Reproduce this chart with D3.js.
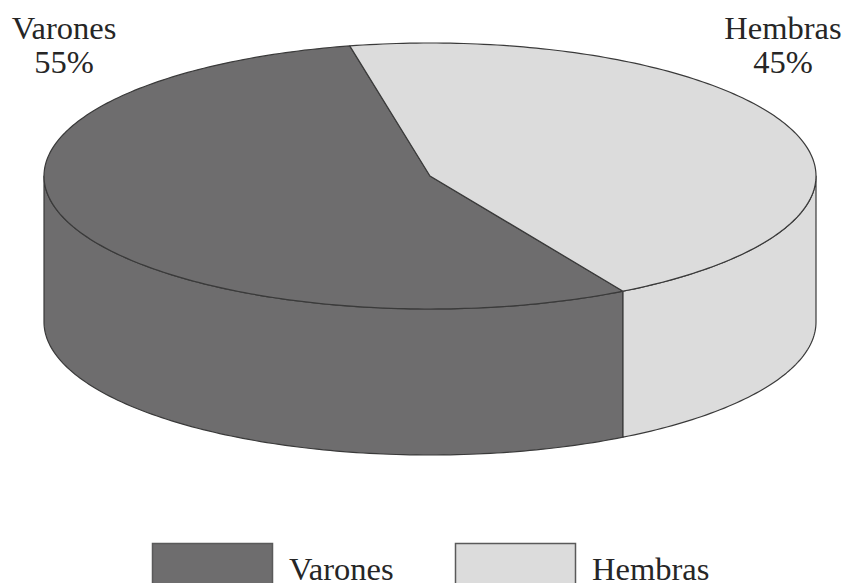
<!DOCTYPE html>
<html>
<head>
<meta charset="utf-8">
<script src="https://cdn.jsdelivr.net/npm/d3@7"></script>
<style>
  body { margin: 0; background: #fff; }
  text { font-family: "Liberation Serif", "Times New Roman", serif; fill: #262626; }
</style>
</head>
<body>
<svg id="chart" width="847" height="583"></svg>
<script>
var categories = ["Varones", "Hembras"];
var values = [55, 45];
var percentLabels = ["55%", "45%"];
var colors = ["#6e6d6e", "#dcdcdc"];

var svg = d3.select("#chart");
var cx = 430, cy = 176, rx = 386, ry = 133, depth = 146;
var deg = Math.PI / 180;

// Varones starts at 150deg (clockwise from top), Hembras ends back there
var pie = d3.pie().sort(null).value(function(d){ return d; })
	.startAngle(150 * deg).endAngle(510 * deg);
var arcs = pie(values);

function pt(t, dy){
	return [cx + rx * Math.sin(t), cy - ry * Math.cos(t) + (dy || 0)];
}

function arcPts(a0, a1, dy){
	var n = Math.max(2, Math.ceil(Math.abs(a1 - a0) / (deg)));
	var pts = [];
	for (var i = 0; i <= n; i++) pts.push(pt(a0 + (a1 - a0) * i / n, dy));
	return pts;
}

var line = d3.line();

// side walls (only front half, 90..270 deg)
var sides = [];
arcs.forEach(function(a, i){
	[0, 360].forEach(function(off){
		var lo = Math.max(a.startAngle, (90 + off) * deg);
		var hi = Math.min(a.endAngle, (270 + off) * deg);
		if (hi > lo) sides.push({i: i, a0: lo, a1: hi});
	});
});

svg.selectAll("path.side").data(sides).enter().append("path")
	.attr("class", "side")
	.attr("d", function(s){
		var top = arcPts(s.a0, s.a1, 0);
		var bot = arcPts(s.a1, s.a0, depth);
		return line(top.concat(bot)) + "Z";
	})
	.attr("fill", function(s){ return colors[s.i]; })
	.attr("stroke", "#3a3a3a")
	.attr("stroke-width", 1.2)
	.attr("stroke-linejoin", "round");

// top faces
svg.selectAll("path.top").data(arcs).enter().append("path")
	.attr("class", "top")
	.attr("d", function(a){
		return line([[cx, cy]].concat(arcPts(a.startAngle, a.endAngle, 0))) + "Z";
	})
	.attr("fill", function(a, i){ return colors[i]; })
	.attr("stroke", "#3a3a3a")
	.attr("stroke-width", 1.2)
	.attr("stroke-linejoin", "round");

// corner labels
var labelPos = [[64, 39], [783, 39]];
categories.forEach(function(c, i){
	var g = svg.append("text")
		.attr("text-anchor", "middle")
		.attr("font-size", 32.5);
	g.append("tspan").attr("x", labelPos[i][0]).attr("y", labelPos[i][1]).text(c);
	g.append("tspan").attr("x", labelPos[i][0]).attr("y", labelPos[i][1] + 34).text(percentLabels[i]);
});

// legend
var legendX = d3.scaleOrdinal().domain(categories).range([152, 455]);
var leg = svg.selectAll("g.leg").data(categories).enter().append("g")
	.attr("class", "leg")
	.attr("transform", function(d){ return "translate(" + legendX(d) + ",543)"; });
leg.append("rect")
	.attr("x", 0.5).attr("y", 0.5)
	.attr("width", 120).attr("height", 50)
	.attr("fill", function(d, i){ return colors[i]; })
	.attr("stroke", "#5a5a5a").attr("stroke-width", 1.5);
leg.append("text")
	.attr("x", 137).attr("y", 37)
	.attr("font-size", 32.5)
	.text(function(d){ return d; });
</script>
</body>
</html>
